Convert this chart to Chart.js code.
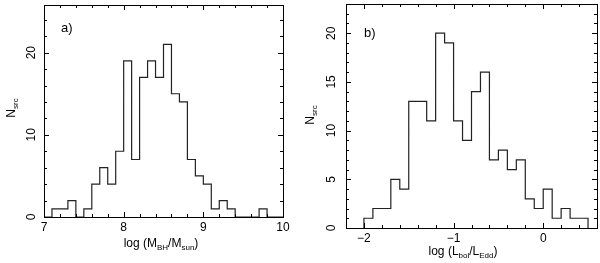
<!DOCTYPE html>
<html><head><meta charset="utf-8">
<script src="https://cdn.jsdelivr.net/npm/chart.js@4"></script>
<style>
html,body{margin:0;padding:0;background:#fff;}
#wrap{position:relative;width:600px;height:263px;overflow:hidden;}
canvas{position:absolute;top:0;}
</style></head><body>
<div id="wrap">
<canvas id="ca" width="300" height="263" style="left:0px"></canvas>
<canvas id="cb" width="300" height="263" style="left:300px"></canvas>
</div>
<script>
// ---- Panel a data: log(M_BH/M_sun) histogram ----
const edgesA = [7.0,7.1,7.2,7.3,7.4,7.5,7.6,7.7,7.8,7.9,8.0,8.1,8.2,8.3,8.4,8.5,8.6,8.7,8.8,8.9,9.0,9.1,9.2,9.3,9.4,9.5,9.6,9.7,9.8,9.9,10.0];
const countsA = [0,1,1,2,0,1,4,6,4,8,19,7,17,19,17,21,15,14,7,5,4,1,2,1,0,0,0,1,0,0];
const xLabelsA = [7,8,9,10];
const yLabelsA = [0,10,20];

// ---- Panel b data: log(L_bol/L_Edd) histogram ----
const edgesB = [-2.0,-1.9,-1.8,-1.7,-1.6,-1.5,-1.4,-1.3,-1.2,-1.1,-1.0,-0.9,-0.8,-0.7,-0.6,-0.5,-0.4,-0.3,-0.2,-0.1,0.0,0.1,0.2,0.3,0.4,0.5];
const countsB = [1,2,2,5,4,13,13,11,20,19,11,9,14,16,7,8,6,7,3,2,4,1,2,1,1];
const xLabelsB = [-2,-1,0];
const yLabelsB = [0,5,10,15,20];

const FONT = "'Liberation Sans', Arial, Helvetica, sans-serif";
Chart.defaults.font.family = FONT;
Chart.defaults.font.size = 12;
Chart.defaults.color = '#000';

function fmt(v){ return v < 0 ? '\u2212' + Math.abs(v) : String(v); }
function near(v, arr){ return arr.some(a => Math.abs(a - v) < 1e-6); }

// histogram outline: each bin drawn from its left edge to the next edge
function stepPoints(edges, counts){
  const pts = [{x: edges[0], y: 0}];
  for (let i = 0; i < counts.length; i++) {
    pts.push({x: edges[i], y: counts[i]});
    pts.push({x: edges[i+1], y: counts[i]});
  }
  pts.push({x: edges[edges.length-1], y: 0});
  return pts;
}

function drawRich(ctx, parts, x, y, rot, size, subSize, subShift){
  ctx.save();
  ctx.translate(x, y);
  ctx.rotate(rot);
  let total = 0;
  const ws = parts.map(p => { ctx.font = (p.sub ? subSize : size) + 'px ' + FONT; const w = ctx.measureText(p.t).width; total += w; return w; });
  let cx = -total/2;
  ctx.textBaseline = 'alphabetic';
  ctx.textAlign = 'left';
  ctx.fillStyle = '#000';
  parts.forEach((p, i) => {
    ctx.font = (p.sub ? subSize : size) + 'px ' + FONT;
    ctx.fillText(p.t, cx, p.sub ? subShift : 0);
    cx += ws[i];
  });
  ctx.restore();
}

const framePlugin = {
  id: 'frame',
  afterDraw(chart, args, o){
    const ctx = chart.ctx, a = chart.chartArea;
    const xs = chart.scales.x, ys = chart.scales.y;
    ctx.save();
    ctx.strokeStyle = '#000';
    ctx.lineWidth = 1;
    ctx.strokeRect(Math.round(a.left)+0.5, Math.round(a.top)+0.5, Math.round(a.right-a.left), Math.round(a.bottom-a.top));
    ctx.beginPath();
    xs.ticks.forEach(t => {
      const px = Math.round(xs.getPixelForValue(t.value)) + 0.5;
      const len = near(t.value, o.xMajor) ? 5 : 3;
      ctx.moveTo(px, a.bottom); ctx.lineTo(px, a.bottom - len);
      ctx.moveTo(px, a.top); ctx.lineTo(px, a.top + len);
    });
    ys.ticks.forEach(t => {
      const py = Math.round(ys.getPixelForValue(t.value)) + 0.5;
      const len = near(t.value, o.yMajor) ? 5 : 3;
      ctx.moveTo(a.left, py); ctx.lineTo(a.left + len, py);
      ctx.moveTo(a.right, py); ctx.lineTo(a.right - len, py);
    });
    ctx.stroke();
    // rotated y tick labels
    ctx.fillStyle = '#000';
    ctx.font = '12px ' + FONT;
    ctx.textAlign = 'center';
    ctx.textBaseline = 'alphabetic';
    o.yMajor.forEach(v => {
      const py = ys.getPixelForValue(v);
      ctx.save();
      ctx.translate(a.left - o.yLabOff, py);
      ctx.rotate(-Math.PI/2);
      ctx.fillText(fmt(v), 0, 0);
      ctx.restore();
    });
    // panel letter
    ctx.font = '13px ' + FONT;
    ctx.textAlign = 'left';
    ctx.fillText(o.letter, a.left + o.letterDx, a.top + o.letterDy);
    ctx.restore();
    // axis titles
    drawRich(ctx, o.xTitle, o.xTitleX, o.xTitleY, 0, 12, 8, 3);
    drawRich(ctx, o.yTitle, o.yTitleX, o.yTitleY, -Math.PI/2, 12, 8, 3);
  }
};

function makeChart(id, edges, counts, cfg){
  return new Chart(document.getElementById(id), {
    type: 'line',
    data: { datasets: [{
      data: stepPoints(edges, counts),
      borderColor: '#222',
      borderWidth: 1.2,
      pointRadius: 0,
      tension: 0,
      fill: false
    }]},
    options: {
      responsive: false,
      animation: false,
      events: [],
      layout: { padding: cfg.padding },
      plugins: { legend: {display:false}, tooltip: {enabled:false}, frame: cfg.frame },
      scales: {
        x: {
          type: 'linear', min: cfg.xmin, max: cfg.xmax,
          afterFit: s => { s.height = cfg.xh; },
          grid: { display:false, drawTicks:false }, border: { display:false },
          ticks: { stepSize: 0.2, autoSkip:false, maxRotation:0, minRotation:0, padding: cfg.xpad, includeBounds:false,
                   callback: v => near(v, cfg.xLabels) ? fmt(Math.round(v)) : '' }
        },
        y: {
          type: 'linear', min: 0, max: cfg.ymax,
          afterFit: s => { s.width = cfg.yw; },
          grid: { display:false, drawTicks:false }, border: { display:false },
          ticks: { display:false, stepSize: cfg.ystep, includeBounds:false }
        }
      }
    },
    plugins: [framePlugin]
  });
}

makeChart('ca', edgesA, countsA, {
  xmin: 7, xmax: 10, ymax: 25.8, ystep: 2, xLabels: xLabelsA,
  padding: {left:0, top:5, right:17, bottom:0}, xh: 46, yw: 44, xpad: 3,
  frame: { xMajor: xLabelsA, yMajor: yLabelsA, yLabOff: 9, letter: 'a)', letterDx: 17, letterDy: 27,
    xTitle: [{t:'log (M'},{t:'BH',sub:true},{t:'/M'},{t:'sun',sub:true},{t:')'}], xTitleX: 161, xTitleY: 247,
    yTitle: [{t:'N'},{t:'src',sub:true}], yTitleX: 14.5, yTitleY: 108 }
});

makeChart('cb', edgesB, countsB, {
  xmin: -2.2, xmax: 0.6, ymax: 23, ystep: 1, xLabels: xLabelsB,
  padding: {left:0, top:4, right:3, bottom:0}, xh: 35, yw: 46, xpad: 3,
  frame: { xMajor: xLabelsB, yMajor: yLabelsB, yLabOff: 10.7, letter: 'b)', letterDx: 18, letterDy: 33,
    xTitle: [{t:'log (L'},{t:'bol',sub:true},{t:'/L'},{t:'Edd',sub:true},{t:')'}], xTitleX: 163, xTitleY: 255,
    yTitle: [{t:'N'},{t:'src',sub:true}], yTitleX: 14, yTitleY: 115 }
});
</script>
</body></html>
